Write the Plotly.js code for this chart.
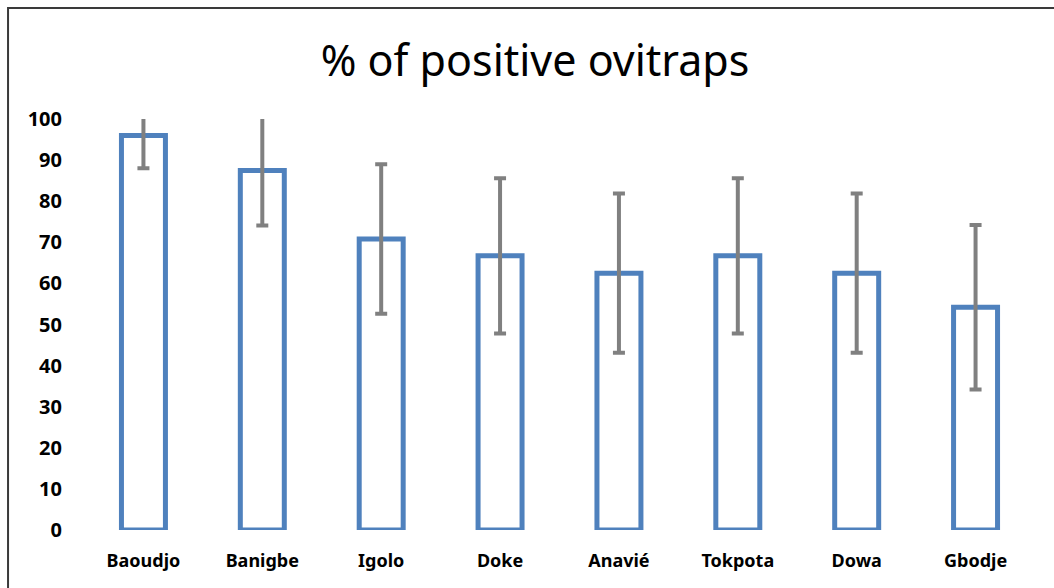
<!DOCTYPE html>
<html>
<head>
<meta charset="utf-8">
<script src="https://cdn.plot.ly/plotly-3.0.1.min.js"></script>
<style>html,body{margin:0;padding:0;background:#fff;}#chart{width:1054px;height:588px;}</style>
</head>
<body>
<div id="chart"></div>
<script>
const sites = ["Baoudjo", "Banigbe", "Igolo", "Doke", "Anavié", "Tokpota", "Dowa", "Gbodje"];
const positivePct = [96, 87.5, 70.8, 66.7, 62.5, 66.7, 62.5, 54.2];
const errorPct = [8, 13.4, 18.2, 18.9, 19.4, 18.9, 19.4, 20];
const yTicks = [0, 10, 20, 30, 40, 50, 60, 70, 80, 90, 100];

const W = 1054, H = 588;
const L = 84, R = 18.5, T = 119, B = 58;
const pw = W - L - R, ph = H - T - B;
const px = v => (v - L) / pw;
const py = v => (H - B - v) / ph;

const trace = {
  type: 'bar',
  x: sites,
  y: positivePct,
  marker: {color: 'rgba(255,255,255,0)', line: {color: '#4F81BD', width: 5}},
  error_y: {type: 'data', array: errorPct, visible: true, color: '#808080', thickness: 4, width: 6},
  hoverinfo: 'x+y'
};

const layout = {
  width: W, height: H,
  margin: {l: L, r: R, t: T, b: B, pad: 0},
  paper_bgcolor: '#fff', plot_bgcolor: '#fff',
  bargap: 0.63,
  showlegend: false,
  title: {text: '% of positive ovitraps', x: 535 / W, xanchor: 'center', y: 1 - 61 / H, yanchor: 'middle',
          font: {family: 'Noto Sans, sans-serif', size: 43, color: '#000'}},
  xaxis: {showline: false, showgrid: false, zeroline: false, ticks: '',
          tickfont: {family: 'Noto Sans, sans-serif', size: 18, color: '#000', weight: 'bold'},
          ticklabelstandoff: 18},
  yaxis: {range: [0, 100], tickvals: yTicks, showline: false, showgrid: false, zeroline: false, ticks: '',
          tickfont: {family: 'Noto Sans, sans-serif', size: 20, color: '#000', weight: 'bold'},
          ticklabelstandoff: 21},
  shapes: [{type: 'rect', xref: 'paper', yref: 'paper', x0: px(8), x1: px(1064), y0: py(598), y1: py(8),
            line: {color: '#3a3a3a', width: 2}, fillcolor: 'rgba(0,0,0,0)', layer: 'below'}]
};

Plotly.newPlot('chart', [trace], layout, {displayModeBar: false, staticPlot: true});
</script>
</body>
</html>
